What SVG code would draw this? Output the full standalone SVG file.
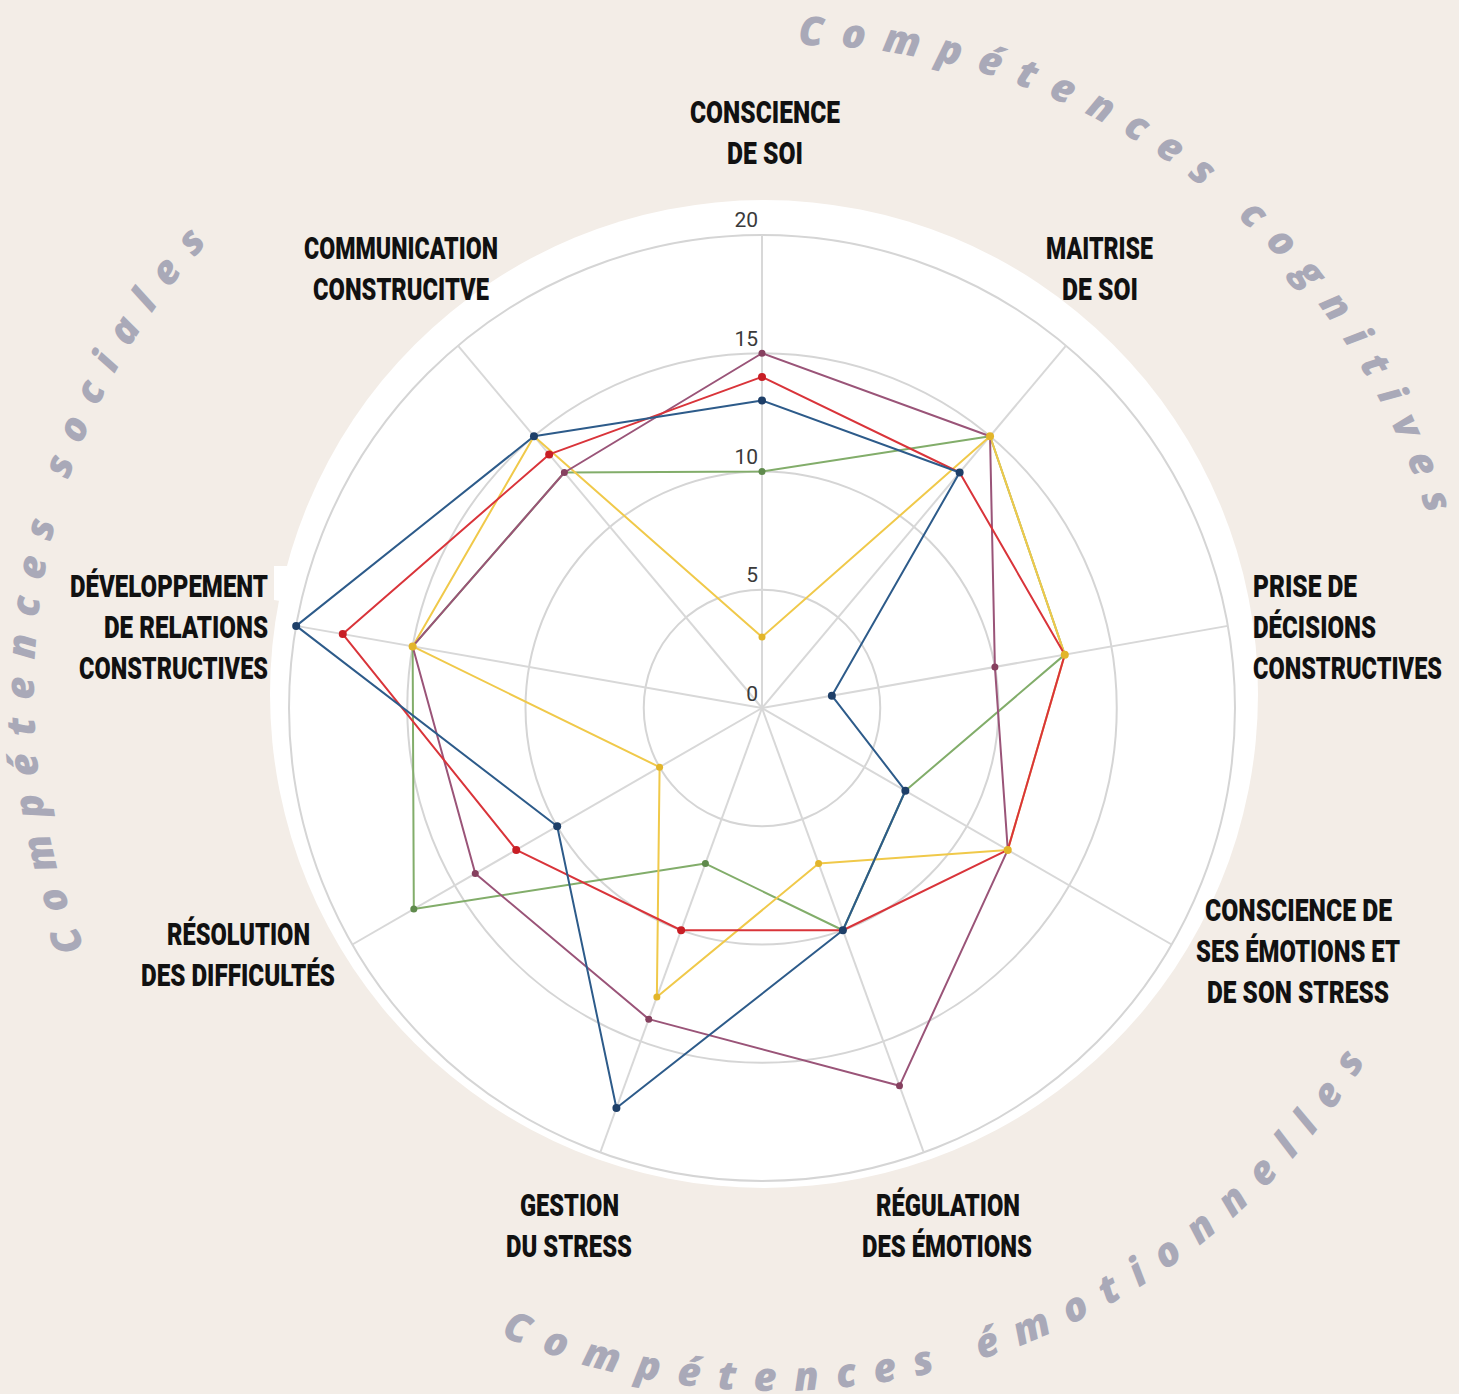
<svg xmlns="http://www.w3.org/2000/svg" width="1459" height="1394" viewBox="0 0 1459 1394">
<defs>
<style>
.lbl{font-family:Roboto,"Liberation Sans",sans-serif;font-weight:900;font-size:32px;fill:#111111;}
.tick{font-family:Roboto,"Liberation Sans",sans-serif;font-size:21px;fill:#3a3a3a;text-anchor:end;}
.arc{font-family:"Open Sans","DejaVu Sans",sans-serif;font-weight:800;font-style:italic;font-size:40px;fill:#a9a9b8;letter-spacing:17.3px;}
.grid{fill:none;stroke:#d5d5d5;stroke-width:2;}
.spoke{stroke:#d8d8d8;stroke-width:2;}
.s{fill:none;stroke-width:2;stroke-linejoin:round;}
.blue{stroke:#2d5b8a;}
.red{stroke:#d9343a;}
.purple{stroke:#9a5478;}
.green{stroke:#82ad6a;}
.yellow{stroke:#f0c94a;}
.dblue{fill:#1e3f68;}
.dred{fill:#c81e25;}
.dpurple{fill:#86405f;}
.dgreen{fill:#5f8a4c;}
.dyellow{fill:#e2b52a;}
</style>
<path id="pCog" d="M 797.96 45.04 A 665 665 0 0 1 1453.5 652"/>
<path id="pSoc" d="M 84.8 947.6 A 668 668 0 0 1 368 113.5"/>
<path id="pEmo" d="M 500.7 1335.6 A 697 697 0 0 0 1428 932.4"/>
</defs>

<rect width="1459" height="1394" fill="#f3ede7"/>
<circle cx="764" cy="694" r="494" fill="#ffffff"/>
<polygon points="274,566 292,566 292,603 274,600" fill="#ffffff"/>

<g id="grid">
<circle class="grid" cx="762" cy="708" r="118.25"/>
<circle class="grid" cx="762" cy="708" r="236.5"/>
<circle class="grid" cx="762" cy="708" r="354.75"/>
<circle class="grid" cx="762" cy="708" r="473"/>
<line class="spoke" x1="762" y1="708" x2="762" y2="235"/>
<line class="spoke" x1="762" y1="708" x2="1066.04" y2="345.68"/>
<line class="spoke" x1="762" y1="708" x2="1227.81" y2="625.89"/>
<line class="spoke" x1="762" y1="708" x2="1171.62" y2="944.5"/>
<line class="spoke" x1="762" y1="708" x2="923.77" y2="1152.48"/>
<line class="spoke" x1="762" y1="708" x2="600.23" y2="1152.48"/>
<line class="spoke" x1="762" y1="708" x2="352.38" y2="944.5"/>
<line class="spoke" x1="762" y1="708" x2="296.19" y2="625.89"/>
<line class="spoke" x1="762" y1="708" x2="457.96" y2="345.68"/>
<text class="tick" x="758" y="227">20</text>
<text class="tick" x="758" y="346">15</text>
<text class="tick" x="758" y="464">10</text>
<text class="tick" x="758" y="582">5</text>
<text class="tick" x="758" y="701">0</text>
</g>

<g id="connectors">
<g id="series-green">
<polygon class="s green" points="762,471.5 990.03,436.26 1064.78,654.63 905.37,790.78 842.88,930.24 705.38,863.57 413.82,909.03 412.64,646.42 564.37,472.49"/>
<g class="dgreen"><circle cx="762" cy="471.5" r="3.5"/><circle cx="705.38" cy="863.57" r="3.5"/><circle cx="413.82" cy="909.03" r="3.5"/></g>
</g>
<g id="series-yellow">
<polygon class="s yellow" points="762,637.05 990.03,436.26 1064.78,654.63 1007.77,849.9 818.62,863.57 656.85,996.91 659.6,767.13 412.64,646.42 533.97,436.26"/>
<g class="dyellow"><circle cx="762" cy="637.05" r="3.5"/><circle cx="818.62" cy="863.57" r="3.5"/><circle cx="656.85" cy="996.91" r="3.5"/><circle cx="659.6" cy="767.13" r="3.5"/></g>
</g>
<g id="series-purple">
<polygon class="s purple" points="762,353.25 990.03,436.26 994.9,666.94 1007.77,849.9 899.5,1085.8 648.76,1019.14 475.27,873.55 412.64,646.42 564.37,472.49"/>
<g class="dpurple"><circle cx="762" cy="353.25" r="3.5"/><circle cx="994.9" cy="666.94" r="3.5"/><circle cx="899.5" cy="1085.8" r="3.5"/><circle cx="648.76" cy="1019.14" r="3.5"/><circle cx="475.27" cy="873.55" r="3.5"/><circle cx="564.37" cy="472.49" r="3.5"/></g>
</g>
<g id="series-red">
<polygon class="s red" points="762,376.9 959.63,472.49 1064.78,654.63 1007.77,849.9 842.88,930.24 681.12,930.24 516.23,849.9 342.77,634.1 549.17,454.38"/>
<g class="dred"><circle cx="762" cy="376.9" r="4"/><circle cx="681.12" cy="930.24" r="4"/><circle cx="516.23" cy="849.9" r="4"/><circle cx="342.77" cy="634.1" r="4"/><circle cx="549.17" cy="454.38" r="4"/></g>
</g>
<g id="series-blue">
<polygon class="s blue" points="762,400.55 959.63,472.49 831.87,695.68 905.37,790.78 842.88,930.24 616.41,1108.03 557.19,826.25 296.19,625.89 533.97,436.26"/>
<g class="dblue"><circle cx="762" cy="400.55" r="4"/><circle cx="959.63" cy="472.49" r="4"/><circle cx="831.87" cy="695.68" r="4"/><circle cx="905.37" cy="790.78" r="4"/><circle cx="842.88" cy="930.24" r="4"/><circle cx="616.41" cy="1108.03" r="4"/><circle cx="557.19" cy="826.25" r="4"/><circle cx="296.19" cy="625.89" r="4"/><circle cx="533.97" cy="436.26" r="4"/></g>
</g>
<g class="dyellow"><circle cx="990.03" cy="436.26" r="4"/><circle cx="1064.78" cy="654.63" r="4"/><circle cx="1007.77" cy="849.9" r="4"/><circle cx="412.64" cy="646.42" r="4"/></g>
</g>

<g id="node-conscience-soi">
<text class="lbl" x="690" y="123" textLength="150" lengthAdjust="spacingAndGlyphs">CONSCIENCE</text>
<text class="lbl" x="727" y="164" textLength="76" lengthAdjust="spacingAndGlyphs">DE SOI</text>
</g>
<g id="node-maitrise-soi">
<text class="lbl" x="1046" y="259" textLength="107" lengthAdjust="spacingAndGlyphs">MAITRISE</text>
<text class="lbl" x="1062" y="300" textLength="76" lengthAdjust="spacingAndGlyphs">DE SOI</text>
</g>
<g id="node-prise-decisions">
<text class="lbl" x="1253" y="597" textLength="104" lengthAdjust="spacingAndGlyphs">PRISE DE</text>
<text class="lbl" x="1253" y="638" textLength="123" lengthAdjust="spacingAndGlyphs">DÉCISIONS</text>
<text class="lbl" x="1253" y="679" textLength="189" lengthAdjust="spacingAndGlyphs">CONSTRUCTIVES</text>
</g>
<g id="node-conscience-emotions">
<text class="lbl" x="1205" y="921" textLength="187" lengthAdjust="spacingAndGlyphs">CONSCIENCE DE</text>
<text class="lbl" x="1196" y="962" textLength="204" lengthAdjust="spacingAndGlyphs">SES ÉMOTIONS ET</text>
<text class="lbl" x="1207" y="1003" textLength="182" lengthAdjust="spacingAndGlyphs">DE SON STRESS</text>
</g>
<g id="node-regulation">
<text class="lbl" x="876" y="1216" textLength="144" lengthAdjust="spacingAndGlyphs">RÉGULATION</text>
<text class="lbl" x="862" y="1257" textLength="170" lengthAdjust="spacingAndGlyphs">DES ÉMOTIONS</text>
</g>
<g id="node-gestion-stress">
<text class="lbl" x="520" y="1216" textLength="99" lengthAdjust="spacingAndGlyphs">GESTION</text>
<text class="lbl" x="506" y="1257" textLength="126" lengthAdjust="spacingAndGlyphs">DU STRESS</text>
</g>
<g id="node-resolution">
<text class="lbl" x="167" y="945" textLength="143" lengthAdjust="spacingAndGlyphs">RÉSOLUTION</text>
<text class="lbl" x="141" y="986" textLength="194" lengthAdjust="spacingAndGlyphs">DES DIFFICULTÉS</text>
</g>
<g id="node-relations">
<text class="lbl" x="70" y="597" textLength="198" lengthAdjust="spacingAndGlyphs">DÉVELOPPEMENT</text>
<text class="lbl" x="104" y="638" textLength="164" lengthAdjust="spacingAndGlyphs">DE RELATIONS</text>
<text class="lbl" x="79" y="679" textLength="189" lengthAdjust="spacingAndGlyphs">CONSTRUCTIVES</text>
</g>
<g id="node-communication">
<text class="lbl" x="304" y="259" textLength="194" lengthAdjust="spacingAndGlyphs">COMMUNICATION</text>
<text class="lbl" x="313" y="300" textLength="176" lengthAdjust="spacingAndGlyphs">CONSTRUCITVE</text>
</g>

<g id="group-titles">
<text class="arc"><textPath href="#pCog">Compétences cognitives</textPath></text>
<text class="arc" style="letter-spacing:17px"><textPath href="#pSoc">Compétences sociales</textPath></text>
<text class="arc" style="letter-spacing:18px"><textPath href="#pEmo">Compétences émotionnelles</textPath></text>
</g>
</svg>
